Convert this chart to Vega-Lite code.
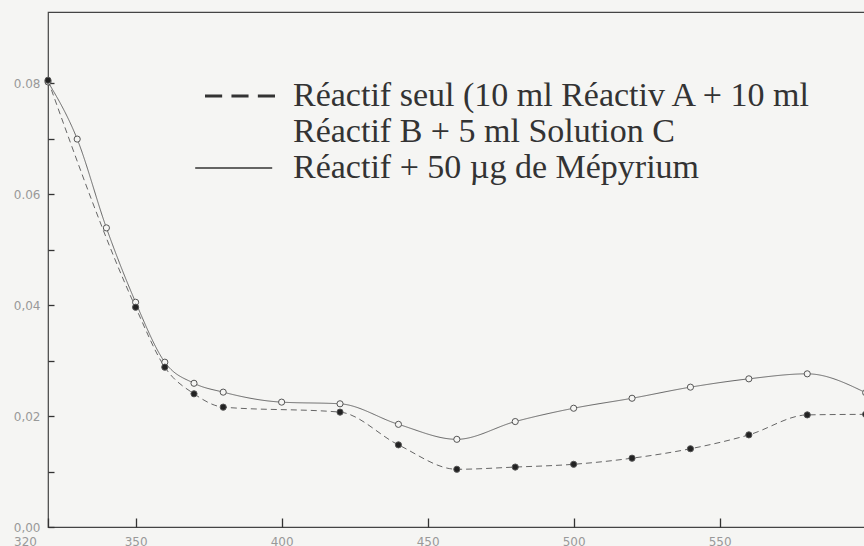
{
  "$schema": "https://vega.github.io/schema/vega-lite/v6.json",
  "width": 820,
  "height": 515,
  "autosize": "none",
  "padding": {"left": 48, "top": 12, "right": 0, "bottom": 19},
  "background": "#f5f5f3",
  "config": {
    "view": {"stroke": "#444", "strokeWidth": 1.2},
    "axis": {"grid": false, "title": null, "domain": false, "ticks": true, "tickColor": "#333", "tickWidth": 1.3, "labelColor": "#999", "labelFont": "DejaVu Sans", "labelFontSize": 12}
  },
  "data": {
    "values": [
      {"longueur_onde": 320, "serie": "mepyrium", "absorbance": 0.0802},
      {"longueur_onde": 330, "serie": "mepyrium", "absorbance": 0.0699},
      {"longueur_onde": 340, "serie": "mepyrium", "absorbance": 0.0539},
      {"longueur_onde": 350, "serie": "mepyrium", "absorbance": 0.0405},
      {"longueur_onde": 360, "serie": "mepyrium", "absorbance": 0.0297},
      {"longueur_onde": 370, "serie": "mepyrium", "absorbance": 0.0259},
      {"longueur_onde": 380, "serie": "mepyrium", "absorbance": 0.0243},
      {"longueur_onde": 400, "serie": "mepyrium", "absorbance": 0.0225},
      {"longueur_onde": 420, "serie": "mepyrium", "absorbance": 0.0222},
      {"longueur_onde": 440, "serie": "mepyrium", "absorbance": 0.0185},
      {"longueur_onde": 460, "serie": "mepyrium", "absorbance": 0.0158},
      {"longueur_onde": 480, "serie": "mepyrium", "absorbance": 0.019},
      {"longueur_onde": 500, "serie": "mepyrium", "absorbance": 0.0214},
      {"longueur_onde": 520, "serie": "mepyrium", "absorbance": 0.0232},
      {"longueur_onde": 540, "serie": "mepyrium", "absorbance": 0.0252},
      {"longueur_onde": 560, "serie": "mepyrium", "absorbance": 0.0267},
      {"longueur_onde": 580, "serie": "mepyrium", "absorbance": 0.0276},
      {"longueur_onde": 600, "serie": "mepyrium", "absorbance": 0.0242},
      {"longueur_onde": 320, "serie": "reactif", "absorbance": 0.0805},
      {"longueur_onde": 350, "serie": "reactif", "absorbance": 0.0396},
      {"longueur_onde": 360, "serie": "reactif", "absorbance": 0.0288},
      {"longueur_onde": 370, "serie": "reactif", "absorbance": 0.024},
      {"longueur_onde": 380, "serie": "reactif", "absorbance": 0.0216},
      {"longueur_onde": 420, "serie": "reactif", "absorbance": 0.0207},
      {"longueur_onde": 440, "serie": "reactif", "absorbance": 0.0148},
      {"longueur_onde": 460, "serie": "reactif", "absorbance": 0.0104},
      {"longueur_onde": 480, "serie": "reactif", "absorbance": 0.0108},
      {"longueur_onde": 500, "serie": "reactif", "absorbance": 0.0113},
      {"longueur_onde": 520, "serie": "reactif", "absorbance": 0.0124},
      {"longueur_onde": 540, "serie": "reactif", "absorbance": 0.0141},
      {"longueur_onde": 560, "serie": "reactif", "absorbance": 0.0166},
      {"longueur_onde": 580, "serie": "reactif", "absorbance": 0.0202},
      {"longueur_onde": 600, "serie": "reactif", "absorbance": 0.0203}
    ]
  },
  "encoding": {
    "x": {
      "field": "longueur_onde",
      "type": "quantitative",
      "scale": {"domain": [320, 600.8], "nice": false, "zero": false},
      "axis": {
        "values": [320, 350, 400, 450, 500, 550],
        "offset": -9,
        "tickSize": 9,
        "labelPadding": 9,
        "labelFlush": false,
        "labelOffset": {"condition": {"test": "datum.value == 320", "value": -23}, "value": 0}
      }
    },
    "y": {
      "field": "absorbance",
      "type": "quantitative",
      "scale": {"domain": [0, 0.0928], "nice": false},
      "axis": {
        "values": [0, 0.01, 0.02, 0.03, 0.04, 0.05, 0.06, 0.07, 0.08],
        "offset": -6,
        "tickSize": 6,
        "labelPadding": 8,
        "labelExpr": "round(datum.value * 100) % 2 == 1 ? '' : (round(datum.value * 100) >= 6 ? format(datum.value, '.2f') : replace(format(datum.value, '.2f'), '.', ','))"
      }
    }
  },
  "layer": [
    {
      "mark": {"type": "line", "interpolate": "monotone", "strokeWidth": 1, "color": "#666"},
      "encoding": {
        "strokeDash": {
          "field": "serie",
          "type": "nominal",
          "scale": {"domain": ["reactif", "mepyrium"], "range": [[6, 4], [1, 0]]},
          "legend": null
        }
      }
    },
    {
      "mark": {"type": "point", "shape": "circle", "filled": true, "stroke": "#555", "strokeWidth": 1, "opacity": 1},
      "encoding": {
        "fill": {
          "field": "serie",
          "type": "nominal",
          "scale": {"domain": ["reactif", "mepyrium"], "range": ["#222", "#f5f5f3"]},
          "legend": null
        },
        "size": {"value": 38}
      }
    },
    {
      "transform": [{"filter": "datum.absorbance < 0"}],
      "mark": {"type": "point", "filled": true, "color": "#333"},
      "encoding": {
        "shape": {
          "field": "serie",
          "type": "nominal",
          "scale": {
            "domain": ["reactif", "suite", "mepyrium"],
            "range": [
              "M-5,-0.21H-2.55V0.21H-5Z M-1.22,-0.21H1.22V0.21H-1.22Z M2.55,-0.21H5V0.21H2.55Z",
              "M0,0Z",
              "M-6.4,-0.09H4.6V0.09H-6.4Z"
            ]
          },
          "legend": {
            "orient": "none",
            "legendX": 175,
            "legendY": 67,
            "title": null,
            "padding": 0,
            "symbolSize": 196,
            "symbolFillColor": "#333",
            "symbolStrokeWidth": 0,
            "symbolOpacity": 1,
            "labelOffset": 36,
            "labelFont": "Liberation Serif",
            "labelFontSize": 34,
            "labelColor": "#333",
            "labelLimit": 1000,
            "rowPadding": 2,
            "labelExpr": "datum.value == 'reactif' ? 'Réactif seul (10 ml Réactiv A + 10 ml' : datum.value == 'suite' ? 'Réactif B + 5 ml Solution C' : 'Réactif + 50 µg de Mépyrium'"
          }
        }
      }
    }
  ]
}
